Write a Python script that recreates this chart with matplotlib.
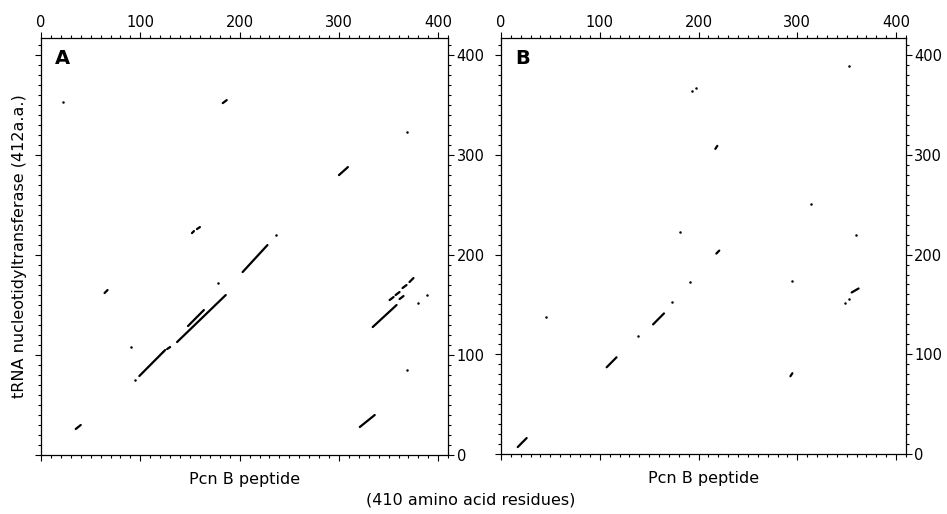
import matplotlib.pyplot as plt
from matplotlib.ticker import MultipleLocator

plt.rcParams['font.family'] = ['DejaVu Sans']

# отрезки (x0, y0, x1, y1) и точки (x, y) для панели A
segs_a = [
    (183, 352, 187, 355), (300, 280, 309, 288),
    (152, 222, 154, 224), (157, 226, 160, 228),
    (203, 183, 228, 210), (64, 162, 67, 165),
    (137, 113, 186, 160), (148, 129, 164, 145),
    (123, 103, 125, 105), (127, 106, 130, 108),
    (334, 128, 358, 150), (351, 155, 355, 158), (357, 160, 361, 163),
    (364, 167, 368, 170), (371, 173, 375, 177), (361, 156, 365, 159),
    (99, 79, 123, 103), (35, 26, 40, 30), (321, 28, 336, 40),
]
dots_a = [
    (22, 353), (368, 323), (237, 220), (178, 172), (91, 108),
    (380, 152), (389, 160), (95, 75), (368, 85),
]

# панель B
segs_b = [
    (217, 306, 219, 309), (218, 201, 221, 204), (355, 162, 362, 166),
    (154, 130, 165, 141), (107, 87, 117, 97), (293, 78, 295, 81),
    (17, 7, 26, 16),
]
dots_b = [
    (352, 389), (193, 364), (197, 367), (314, 251), (181, 223), (359, 220),
    (191, 173), (295, 174), (348, 151), (352, 155), (173, 152), (139, 118),
    (46, 137),
]

x_max = 410
y_max = 417

fig = plt.figure(figsize=(9.47, 5.14), dpi=100)
ax_a = fig.add_axes([0.0433, 0.1148, 0.430, 0.811])
ax_b = fig.add_axes([0.529, 0.1167, 0.4277, 0.809])


def draw_panel(ax, segs, dots, letter):
    for x0, y0, x1, y1 in segs:
        ax.plot([x0, x1], [y0, y1], color='black', lw=1.6, solid_capstyle='round')
    ax.plot([d[0] for d in dots], [d[1] for d in dots], 'o', color='black',
            markersize=1.8, markeredgewidth=0)
    ax.set_xlim(0, x_max)
    ax.set_ylim(0, y_max)
    ax.xaxis.set_major_locator(MultipleLocator(100))
    ax.xaxis.set_minor_locator(MultipleLocator(10))
    ax.yaxis.set_major_locator(MultipleLocator(100))
    ax.yaxis.set_minor_locator(MultipleLocator(10))
    ax.tick_params(which='both', top=True, bottom=True, left=True, right=True,
                   labeltop=True, labelbottom=False, labelleft=False, labelright=True,
                   direction='out', labelsize=10.5, width=0.8, colors='black')
    ax.tick_params(which='major', length=4, pad=2)
    ax.tick_params(which='minor', length=2)
    for s in ax.spines.values():
        s.set_linewidth(0.9)
    ax.text(0.035, 0.975, letter, transform=ax.transAxes, fontsize=14,
            fontweight='bold', va='top', ha='left')
    ax.set_xlabel('Pcn B peptide', fontsize=11.5, labelpad=8)


draw_panel(ax_a, segs_a, dots_a, 'A')
draw_panel(ax_b, segs_b, dots_b, 'B')

ax_a.set_ylabel('tRNA nucleotidyltransferase (412a.a.)', fontsize=11.5, labelpad=6)
fig.text(0.497, 0.027, '(410 amino acid residues)', fontsize=11.5, ha='center', va='center')

plt.savefig('out.png', dpi=100)
